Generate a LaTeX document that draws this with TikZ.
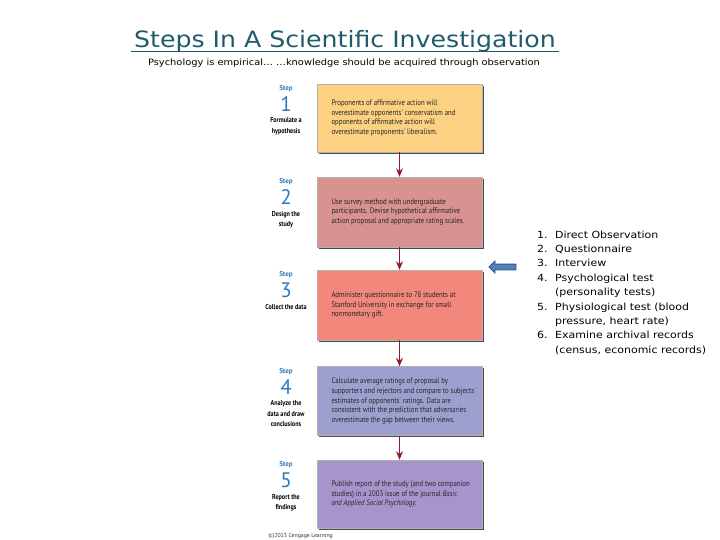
\documentclass[tikz,border=0pt]{standalone}
\usepackage{fontspec}
\setmainfont{DejaVu Sans}
\newfontfamily\comicfont[FakeStretch=1.12]{DejaVu Sans}
\newfontfamily\boxfont[FakeStretch=0.85]{PT Sans}
\newfontfamily\lblfont{PT Sans}
\usepackage{tikz}
\usetikzlibrary{arrows.meta, shapes.arrows, shadows, positioning}
\definecolor{titleteal}{HTML}{215B6B}
\definecolor{stepblue}{HTML}{2F78BC}
\definecolor{arrowred}{HTML}{8E1B2E}
\definecolor{arrowblue}{HTML}{4F81BD}
\definecolor{boxA}{HTML}{FCD181}
\definecolor{boxB}{HTML}{D89290}
\definecolor{boxC}{HTML}{F2877B}
\definecolor{boxD}{HTML}{9DA0CF}
\definecolor{boxE}{HTML}{A794CC}
\newcommand{\listnum}[1]{\makebox[18pt][l]{#1}}

\begin{document}
\begin{tikzpicture}[x=1pt, y=-1pt,
stepbox/.style={draw=black!30, thin, minimum width=165pt, drop shadow={shadow xshift=1.6pt, shadow yshift=-1.6pt, fill=black!70, opacity=1}},
boxtext/.style={anchor=west, inner sep=0pt, align=left, text=black!85, font=\boxfont\fontsize{8}{9.6}\selectfont},
steplbl/.style={inner sep=0pt, text=stepblue, font=\lblfont\bfseries\fontsize{7}{8}\selectfont},
stepnum/.style={inner sep=0pt, text=stepblue, font=\lblfont\fontsize{21}{21}\selectfont},
stepdesc/.style={inner sep=0pt, align=center, font=\boxfont\bfseries\fontsize{7.2}{10.5}\selectfont},
flowarrow/.style={draw=arrowred, line width=1.1pt, -{Stealth[length=8.5pt, width=7pt]}}]
\useasboundingbox (0,0) rectangle (720,540);
\node[anchor=base, text=titleteal, font=\comicfont\fontsize{22.5}{26}\selectfont] (title) at (345,48) {Steps In A Scientific Investigation};
\draw[titleteal, line width=1.7pt] ([yshift=-3.5pt]title.base west) -- ([yshift=-3.5pt]title.base east);
\node[anchor=base, font=\comicfont\fontsize{8.8}{11}\selectfont] (subtitle) at (344,65.5) {Psychology is empirical… …knowledge should be acquired through observation};
\foreach \n/\y/\h/\c/\desc/\txt in {
1/118/68/boxA/{Formulate a\\hypothesis}/{Proponents of affirmative action will\\overestimate opponents' conservatism and\\opponents of affirmative action will\\overestimate proponents' liberalism.},
2/212/70/boxB/{Design the\\study}/{Use survey method with undergraduate\\participants. Devise hypothetical affirmative\\action proposal and appropriate rating scales.},
3/305/70/boxC/{Collect the data}/{Administer questionnaire to 78 students at\\Stanford University in exchange for small\\nonmonetary gift.},
4/401/69/boxD/{Analyze the\\data and draw\\conclusions}/{Calculate average ratings of proposal by\\supporters and rejectors and compare to subjects'\\estimates of opponents' ratings. Data are\\consistent with the prediction that adversaries\\overestimate the gap between their views.},
5/494/68/boxE/{Report the\\findings}/{Publish report of the study (and two companion\\studies) in a 2003 issue of the journal {\itshape Basic}\\{\itshape and Applied Social Psychology.}}} {
\node[stepbox, fill=\c, minimum height=\h] (b\n) at (399.5,\y) {};
\node[boxtext] (t\n) at ([xshift=14.5pt]b\n.west) {\txt};
\node[steplbl] (s\n) at (286,\y-\h/2+5) {Step};
\node[stepnum, below=4pt of s\n] (n\n) {\n};
\node[stepdesc, below=6pt of n\n] (d\n) {\desc};
}
\foreach \a/\b in {1/2,2/3,3/4,4/5} \draw[flowarrow] (b\a) -- (b\b);
\node[anchor=west, text=black!80, font=\lblfont\fontsize{5.8}{6}\selectfont] (credit) at (265,536) {(c)2013 Cengage Learning};
\node[single arrow, shape border rotate=180, fill=arrowblue, draw=arrowblue!65!black, thick, inner sep=2.5pt, single arrow head extend=3pt, minimum height=27pt] (pointer) at (504,267) {};
\node[anchor=north west, inner sep=0pt, align=left, font=\comicfont\fontsize{9.8}{14.4}\selectfont] (methods) at (537,230.5) {\listnum{1.}Direct Observation\\
\listnum{2.}Questionnaire\\
\listnum{3.}Interview\\
\listnum{4.}Psychological test\\
\listnum{}(personality tests)\\
\listnum{5.}Physiological test (blood\\
\listnum{}pressure, heart rate)\\
\listnum{6.}Examine archival records\\
\listnum{}(census, economic records)};
\end{tikzpicture}
\end{document}
